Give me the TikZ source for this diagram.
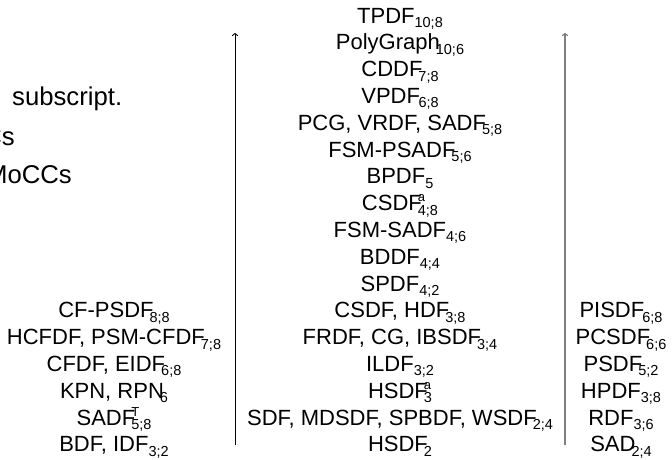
\documentclass[tikz,border=0pt]{standalone}
\usepackage{fontspec}
\setmainfont{Liberation Sans}
\usetikzlibrary{arrows.meta}
\newcommand{\Sb}[2][0pt]{\kern#1\raisebox{-4.5pt}{\fontsize{14.5}{14.5}\selectfont #2}}
\newcommand{\SpSb}[3][0pt]{\kern#1\rlap{\raisebox{9pt}{\fontsize{13}{13}\selectfont #2}}\raisebox{-4.5pt}{\fontsize{14.5}{14.5}\selectfont #3}}
\tikzset{
  lbl/.style={inner sep=0pt, anchor=base, font=\fontsize{22}{26}\selectfont},
  legend/.style={inner sep=0pt, font=\fontsize{25.7}{30}\selectfont},
  axisline/.style={line width=0.9pt, -{To[length=3pt,width=6pt]}},
}
\begin{document}
\begin{tikzpicture}[x=1pt,y=-1pt]
\useasboundingbox (0,0) rectangle (672,459);
\clip (0,0) rectangle (672,459);
% legend text (cut at the left edge)
\node[legend, anchor=base west] (t1) at (12,105) {subscript.};
\node[legend, anchor=base east] (t2) at (15,145) {Cs};
\node[legend, anchor=base east] (t3) at (72,183) {MoCCs};
% axes
\coordinate (la0) at (235,445);
\coordinate (la1) at (235,33);
\coordinate (ra0) at (565,445);
\coordinate (ra1) at (565,33);
\draw[axisline, black] (la0) -- (la1);
\draw[axisline, line width=1.2pt, black!50] (ra0) -- (ra1);
% centre column
\def\cx{400}
\node[lbl] (c0)  at (\cx,23.0)  {TPDF\Sb{10;8}};
\node[lbl] (c1)  at (\cx,49.8)  {PolyGraph\Sb[-4pt]{10;6}};
\node[lbl] (c2)  at (\cx,76.6)  {CDDF\Sb[-4pt]{7;8}};
\node[lbl] (c3)  at (\cx,103.4) {VPDF\Sb[-1.5pt]{6;8}};
\node[lbl] (c4)  at (\cx,130.2) {PCG, VRDF, SADF\Sb[-4pt]{5;8}};
\node[lbl] (c5)  at (\cx,157.0) {FSM-PSADF\Sb[-4pt]{5;6}};
\node[lbl] (c6)  at (\cx,183.8) {BPDF\Sb{5}};
\node[lbl] (c7)  at (\cx,210.6) {CSDF\SpSb[-4pt]{a}{4;8}};
\node[lbl] (c8)  at (\cx,237.4) {FSM-SADF\Sb{4;6}};
\node[lbl] (c9)  at (\cx,264.2) {BDDF\Sb{4;4}};
\node[lbl] (c10) at (\cx,291.0) {SPDF\Sb{4;2}};
\node[lbl] (c11) at (\cx,317.8) {CSDF, HDF\Sb[-4pt]{3;8}};
\node[lbl] (c12) at (\cx,344.6) {FRDF, CG, IBSDF\Sb[-4pt]{3;4}};
\node[lbl] (c13) at (\cx,371.4) {ILDF\Sb{3;2}};
\node[lbl] (c14) at (\cx,398.2) {HSDF\SpSb[-4pt]{a}{3}};
\node[lbl] (c15) at (\cx,425.0) {SDF, MDSDF, SPBDF, WSDF\Sb[-4pt]{2;4}};
\node[lbl] (c16) at (\cx,451.8) {HSDF\Sb[-4pt]{2}};
% left column
\def\lx{114}
\node[lbl] (l11) at (\lx,317.8) {CF-PSDF\Sb[-4pt]{8;8}};
\node[lbl] (l12) at (\lx,344.6) {HCFDF, PSM-CFDF\Sb[-4pt]{7;8}};
\node[lbl] (l13) at (\lx,371.4) {CFDF, EIDF\Sb[-4pt]{6;8}};
\node[lbl] (l14) at (\lx,398.2) {KPN, RPN\Sb[-4pt]{6}};
\node[lbl] (l15) at (\lx,425.0) {SADF\SpSb[-4pt]{T}{5;8}};
\node[lbl] (l16) at (\lx,451.8) {BDF, IDF\Sb{3;2}};
% right column
\def\rx{621}
\node[lbl] (r11) at (\rx,317.8) {PISDF\Sb[-2pt]{6;8}};
\node[lbl] (r12) at (\rx,344.6) {PCSDF\Sb[-4pt]{6;6}};
\node[lbl] (r13) at (\rx,371.4) {PSDF\Sb[-4pt]{5;2}};
\node[lbl] (r14) at (\rx,398.2) {HPDF\Sb{3;8}};
\node[lbl] (r15) at (\rx,425.0) {RDF\Sb{3;6}};
\node[lbl] (r16) at (\rx,451.8) {SAD\Sb[-4pt]{2;4}};
\end{tikzpicture}
\end{document}
